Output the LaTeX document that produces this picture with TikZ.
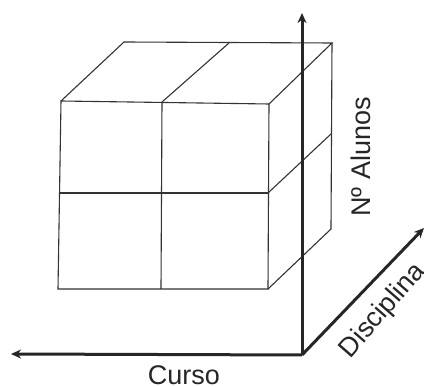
\documentclass[tikz,border=0pt]{standalone}
\usepackage{fontspec}
\setmainfont{Liberation Sans}
\usetikzlibrary{arrows.meta}
\begin{document}
\begin{tikzpicture}[x=1pt,y=-1pt,
  cubeline/.style={draw=black!80,line width=1.1pt,line join=miter},
  axisline/.style={draw=black!85,line width=3pt,-{Stealth[length=10pt,width=9pt]}},
  lbl/.style={font=\fontsize{27}{29}\selectfont,text=black!85,inner sep=0pt}]
\useasboundingbox (0,0) rectangle (424,387);
% front face corners
\coordinate (ftl) at (61,101);
\coordinate (ftm) at (162,102);
\coordinate (ftr) at (269,104);
\coordinate (fml) at (59,193);
\coordinate (fmm) at (161,193);
\coordinate (fmr) at (268,193);
\coordinate (fbl) at (58,289);
\coordinate (fbm) at (161,289);
\coordinate (fbr) at (268,289);
% back corners
\coordinate (btl) at (124,42);
\coordinate (btm) at (229,43);
\coordinate (btr) at (332,43);
\coordinate (bmr) at (331,134);
\coordinate (bbr) at (331,229);
% front face
\draw[cubeline] (ftl) -- (ftr) -- (fbr) -- (fbl) -- cycle;
\draw[cubeline] (ftm) -- (fbm);
\draw[cubeline] (fml) -- (fmr);
% top face
\draw[cubeline] (ftl) -- (btl) -- (btr) -- (ftr);
\draw[cubeline] (ftm) -- (btm);
% right face
\draw[cubeline] (btr) -- (bbr) -- (fbr);
\draw[cubeline] (fmr) -- (bmr);
% axes
\coordinate (o) at (302,355);
\coordinate (ytip) at (302,13);
\coordinate (xtip) at (11,354);
\coordinate (ztip) at (424,228);
\draw[axisline] (o) -- (ytip);
\draw[axisline] (o) -- (xtip);
\draw[axisline] (o) -- (ztip);
% labels
\node[lbl] (curso) at (184,375) {Curso};
\node[lbl,rotate=90] (alunos) at (361,157) {Nº Alunos};
\node[lbl,rotate=49] (disc) at (383,311) {Disciplina};
\end{tikzpicture}
\end{document}
